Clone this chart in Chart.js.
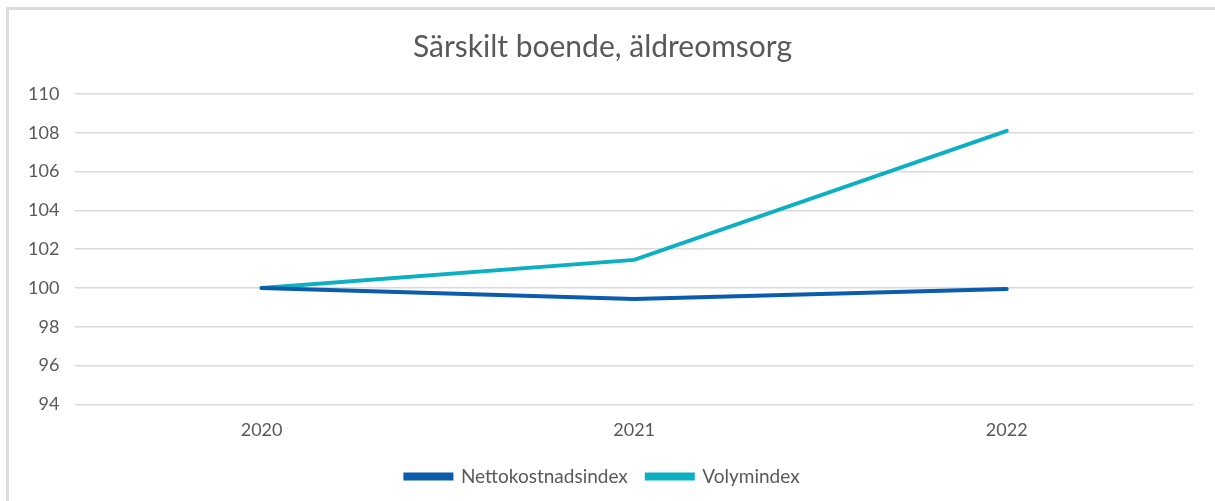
<!DOCTYPE html>
<html><head><meta charset="utf-8">
<script src="https://cdn.jsdelivr.net/npm/chart.js@4/dist/chart.umd.min.js"></script>
<style>
html,body{margin:0;padding:0;background:#fff;overflow:hidden;}
#frame{position:absolute;left:6px;top:7px;width:1212px;height:497px;border-left:3px solid #dcdcdc;border-top:3px solid #dcdcdc;box-sizing:border-box;}
#wrap{position:absolute;left:3px;top:3px;width:1206px;height:491px;}
</style></head>
<body>
<div id="frame"><div id="wrap"><canvas id="c"></canvas></div></div>
<script>
const categories = ['2020','2021','2022'];
const nettokostnadsindex = [100, 99.43, 99.95];
const volymindex = [100, 101.45, 108.1];
const yMin = 94, yMax = 110, yStep = 2;

new Chart(document.getElementById('c'), {
  type: 'line',
  data: {
    labels: categories,
    datasets: [
      {label:'Nettokostnadsindex', data: nettokostnadsindex, borderColor:'#0B5CAD', backgroundColor:'#0B5CAD', borderWidth:4, pointRadius:0, tension:0, borderCapStyle:'round'},
      {label:'Volymindex', data: volymindex, borderColor:'#0DB0C3', backgroundColor:'#0DB0C3', borderWidth:4, pointRadius:0, tension:0, borderCapStyle:'round'}
    ]
  },
  options: {
    responsive:true, maintainAspectRatio:false, animation:false,
    layout:{padding:{left:0,right:25,top:0,bottom:8}},
    plugins:{
      title:{display:true, text:'Särskilt boende, äldreomsorg', color:'#595959', font:{family:'Lato', size:30, weight:'normal'}, padding:{top:16,bottom:29}},
      legend:{position:'bottom', labels:{color:'#595959', font:{family:'Lato', size:19}, boxWidth:46, boxHeight:4, padding:19}},
      tooltip:{enabled:false}
    },
    scales:{
      x:{offset:true, grid:{display:false}, border:{display:false}, ticks:{color:'#595959', font:{family:'Lato', size:18}, padding:7}},
      y:{min:yMin, max:yMax, ticks:{stepSize:yStep, color:'#595959', font:{family:'Lato', size:18}, padding:16}, grid:{color:'#d9d9d9', lineWidth:1.5, drawTicks:false}, border:{display:false}}
    }
  }
});
</script>
</body></html>
